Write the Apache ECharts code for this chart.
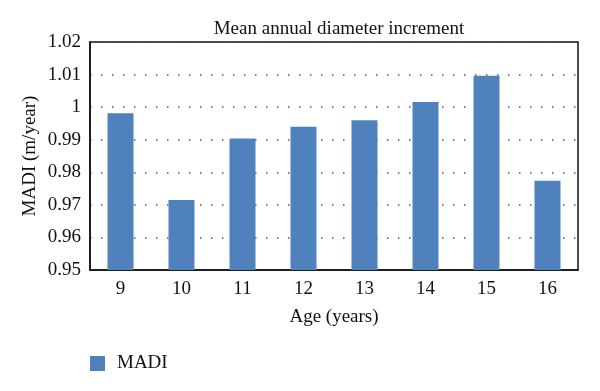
<!DOCTYPE html>
<html><head><meta charset="utf-8">
<script src="https://cdn.jsdelivr.net/npm/echarts@6/dist/echarts.min.js"></script>
<style>html,body{margin:0;padding:0;background:#fff}#c{width:600px;height:391px}</style>
</head><body><div id="c"></div>
<script>
const categories = ['9','10','11','12','13','14','15','16'];
const madi = [0.9981, 0.9715, 0.9904, 0.9940, 0.9960, 1.0016, 1.0096, 0.9774];
const yTicks = {min: 0.95, max: 1.02, interval: 0.01};
const font = 'Liberation Serif';
const chart = echarts.init(document.getElementById('c'), null, {renderer: 'canvas'});
chart.setOption({
  animation: false,
  title: {text: 'Mean annual diameter increment', left: 334, top: 15, textAlign: 'center',
    textStyle: {fontFamily: font, fontSize: 19, fontWeight: 'normal', color: '#111'}},
  legend: {left: 85, top: 349, icon: 'rect', itemWidth: 15, itemHeight: 15, itemGap: 10,
    textStyle: {fontFamily: font, fontSize: 19, color: '#111', padding: [0, 0, 0, 7]}, data: ['MADI']},
  grid: {left: 90, right: 22, top: 42, bottom: 121, show: true, borderColor: '#111', borderWidth: 1.5, containLabel: false},
  xAxis: {type: 'category', data: categories, name: 'Age (years)', nameLocation: 'middle', nameGap: 38,
    nameMoveOverlap: false,
    nameTextStyle: {fontFamily: font, fontSize: 19, color: '#111'},
    axisLine: {lineStyle: {color: '#111', width: 1.5}}, axisTick: {show: false},
    axisLabel: {fontFamily: font, fontSize: 19, color: '#111', margin: 10}},
  yAxis: {type: 'value', min: yTicks.min, max: yTicks.max, interval: yTicks.interval,
    name: 'MADI (m/year)', nameLocation: 'middle', nameGap: 50, nameMoveOverlap: false,
    nameTextStyle: {fontFamily: font, fontSize: 19, color: '#111'},
    axisLine: {show: true, lineStyle: {color: '#111', width: 1.5}}, axisTick: {show: false},
    axisLabel: {fontFamily: font, fontSize: 19, color: '#111', margin: 9,
      formatter: v => String(parseFloat(v.toFixed(2)))},
    splitLine: {lineStyle: {color: '#555', width: 1.5, type: [1.5, 9.5]}}},
  series: [{name: 'MADI', type: 'bar', data: madi, barWidth: 26, itemStyle: {color: '#4F81BD'}}]
});
</script></body></html>
